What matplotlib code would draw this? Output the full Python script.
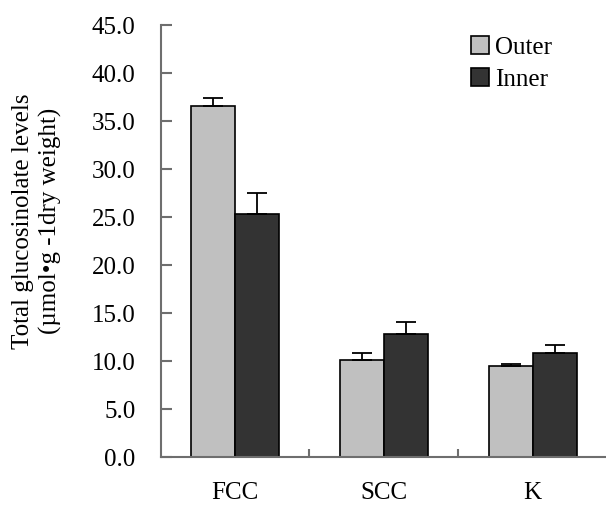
import matplotlib
matplotlib.use("Agg")
import matplotlib.pyplot as plt
import numpy as np

categories = ["FCC", "SCC", "K"]
outer = [36.6, 10.15, 9.5]
outer_err = [0.8, 0.7, 0.2]
inner = [25.3, 12.8, 10.85]
inner_err = [2.25, 1.25, 0.85]
yticks = [0, 5, 10, 15, 20, 25, 30, 35, 40, 45]

plt.rcParams['font.family'] = ['Liberation Serif', 'DejaVu Serif']

fig = plt.figure(figsize=(6.06, 5.05), dpi=100)
ax = fig.add_axes([160.7/606, 48/505, (607-160.7)/606, (457-25)/505])

x = np.arange(len(categories))
w = 0.295
axis_col = '#6e6e6e'
ax.bar(x - w/2, outer, w, color='#c0c0c0', edgecolor='black', linewidth=1.2,
       yerr=[np.zeros(3), outer_err], error_kw=dict(ecolor='black', elinewidth=1.3, capsize=7, capthick=1.3),
       label='Outer', zorder=2)
ax.bar(x + w/2, inner, w, color='#333333', edgecolor='black', linewidth=1.2,
       yerr=[np.zeros(3), inner_err], error_kw=dict(ecolor='black', elinewidth=1.3, capsize=7, capthick=1.3),
       label='Inner', zorder=2)

fs = 18
ax.set_xlim(-0.5, 2.5)
ax.set_ylim(0, 45)
ax.set_yticks(yticks)
ax.set_yticklabels([f"{v:.1f}" for v in yticks], fontsize=fs)
ax.set_xticks(x)
ax.set_xticklabels(categories, fontsize=fs)
ax.set_xticks([0.5, 1.5], minor=True)
ax.tick_params(axis='x', which='major', length=0, pad=18)
ax.tick_params(axis='x', which='minor', direction='in', length=6, width=1.5, color=axis_col)
ax.tick_params(axis='y', direction='in', length=8, width=1.5, color=axis_col, pad=18)

for s in ['top', 'right']:
    ax.spines[s].set_visible(False)
for s in ['left', 'bottom']:
    ax.spines[s].set_color(axis_col)
    ax.spines[s].set_linewidth(1.5)

fig.text(37/606, 1 - 221/505, "Total glucosinolate levels\n(\u00b5mol\u2022g -1dry weight)",
         fontsize=fs, rotation=90, ha='center', va='center', multialignment='center', linespacing=1.3)

leg = ax.legend(loc='upper left', bbox_to_anchor=(471/606, 1 - 36/505), bbox_transform=fig.transFigure,
                frameon=False, fontsize=fs, handlelength=0.72, handleheight=0.72,
                handletextpad=0.25, labelspacing=0.38, borderpad=0, borderaxespad=0)

fig.savefig("out.png", dpi=100)
